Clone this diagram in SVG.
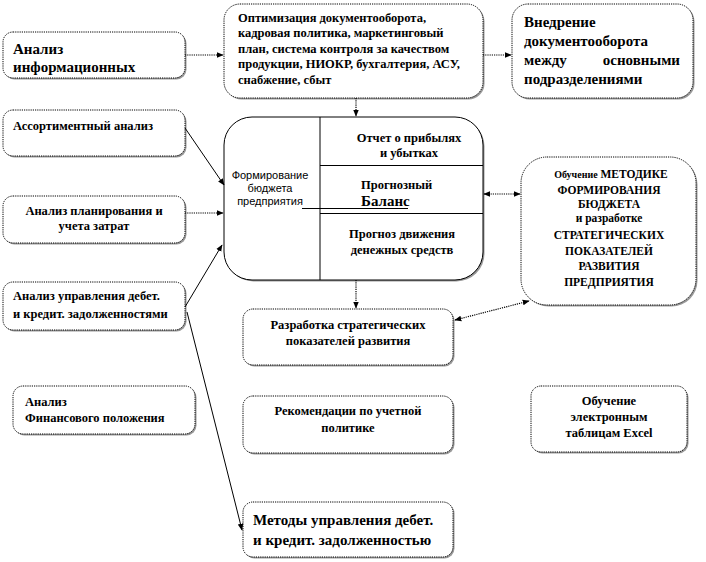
<svg xmlns="http://www.w3.org/2000/svg" width="706" height="562" viewBox="0 0 706 562">
<defs>
<style>
.sh{fill:#999;stroke:none}
.bx{fill:#fff;stroke:#000;stroke-width:1;stroke-dasharray:1.2,1}
.t{font-family:'Liberation Serif','DejaVu Serif','Times New Roman',serif;font-weight:bold;fill:#000}
.s{font-size:12.5px}
.r{font-size:11.5px}
.m{font-size:15px}
.a{font-family:'Liberation Sans',Arial,sans-serif;font-size:11px;fill:#000}
.ln{fill:none;stroke:#000;stroke-width:1}
.dt{fill:none;stroke:#000;stroke-width:1.2;stroke-dasharray:1.2,1}
</style>
<marker id="ar" viewBox="0 0 10 10" refX="9" refY="5" markerWidth="7" markerHeight="7" orient="auto-start-reverse" markerUnits="userSpaceOnUse">
<path d="M0,1 L10,5 L0,9 z" fill="#000"/>
</marker>
</defs>
<rect width="706" height="562" fill="#fff"/>

<g id="n-info">
<rect class="sh" x="4.5" y="33.5" width="182" height="46" rx="10"/>
<rect class="bx" x="3" y="32" width="182" height="46" rx="10"/>
<text class="t m" x="13" y="54">Анализ</text>
<text class="t m" x="13" y="72">информационных</text>
</g>

<g id="n-opt">
<rect class="sh" x="225.5" y="5.5" width="259" height="94" rx="16"/>
<rect class="bx" x="224" y="4" width="259" height="94" rx="16"/>
<text class="t s" x="238" y="22">Оптимизация документооборота,</text>
<text class="t s" x="238" y="37">кадровая политика,  маркетинговый</text>
<text class="t s" x="238" y="53">план,  система контроля за качеством</text>
<text class="t s" x="238" y="68">продукции, НИОКР,  бухгалтерия,  АСУ,</text>
<text class="t s" x="238" y="84">снабжение, сбыт</text>
</g>

<g id="n-vnedr">
<rect class="sh" x="513.5" y="5.5" width="181" height="94" rx="16"/>
<rect class="bx" x="512" y="4" width="181" height="94" rx="16"/>
<text class="t m" x="524" y="27">Внедрение</text>
<text class="t m" x="524" y="46">документооборота</text>
<text class="t m" x="524" y="65">между</text>
<text class="t m" x="680" y="65" text-anchor="end">основными</text>
<text class="t m" x="524" y="84">подразделениями</text>
</g>

<g id="n-assort">
<rect class="sh" x="4.5" y="111.5" width="182" height="46" rx="10"/>
<rect class="bx" x="3" y="110" width="182" height="46" rx="10"/>
<text class="t s" x="13" y="130">Ассортиментный анализ</text>
</g>

<g id="n-plan">
<rect class="sh" x="4.5" y="197.5" width="182" height="47" rx="10"/>
<rect class="bx" x="3" y="196" width="182" height="47" rx="10"/>
<text class="t s" x="94" y="215" text-anchor="middle">Анализ планирования и</text>
<text class="t s" x="94" y="230" text-anchor="middle">учета затрат</text>
</g>

<g id="n-debt">
<rect class="sh" x="4.5" y="283.5" width="182" height="48" rx="10"/>
<rect class="bx" x="3" y="282" width="182" height="48" rx="10"/>
<text class="t s" x="13" y="300">Анализ управления дебет.</text>
<text class="t s" x="13" y="318">и кредит.  задолженностями</text>
</g>

<g id="n-budget">
<rect class="sh" x="225.5" y="118.5" width="259" height="163" rx="28"/>
<rect x="224" y="117" width="259" height="163" rx="28" fill="#fff" stroke="#000" stroke-width="1"/>
<line class="ln" x1="320" y1="117" x2="320" y2="280"/>
<line class="ln" x1="320" y1="165.5" x2="483" y2="165.5"/>
<line class="ln" x1="320" y1="213.5" x2="483" y2="213.5"/>
<line class="ln" x1="302" y1="208.5" x2="408" y2="208.5"/>
<text class="a" x="270" y="179" text-anchor="middle">Формирование</text>
<text class="a" x="270" y="192" text-anchor="middle">бюджета</text>
<text class="a" x="270" y="205" text-anchor="middle">предприятия</text>
<text class="t s" x="409" y="142" text-anchor="middle">Отчет о прибылях</text>
<text class="t s" x="409" y="157" text-anchor="middle">и убытках</text>
<text class="t s" x="361" y="189">Прогнозный</text>
<text class="t m" x="361" y="206">Баланс</text>
<text class="t s" x="402" y="238" text-anchor="middle">Прогноз  движения</text>
<text class="t s" x="402" y="254" text-anchor="middle">денежных  средств</text>
</g>

<g id="n-method">
<rect class="sh" x="522.5" y="158.5" width="175" height="148" rx="26"/>
<rect class="bx" x="521" y="157" width="175" height="148" rx="26"/>
<text class="t r" x="611" y="178" text-anchor="middle"><tspan font-size="10px">Обучение</tspan> МЕТОДИКЕ</text>
<text class="t r" x="609" y="194" text-anchor="middle">ФОРМИРОВАНИЯ</text>
<text class="t r" x="609" y="208" text-anchor="middle">БЮДЖЕТА</text>
<text class="t r" x="609" y="222" text-anchor="middle" font-size="10.5px">и разработке</text>
<text class="t r" x="609" y="239" text-anchor="middle">СТРАТЕГИЧЕСКИХ</text>
<text class="t r" x="609" y="255" text-anchor="middle">ПОКАЗАТЕЛЕЙ</text>
<text class="t r" x="609" y="270" text-anchor="middle">РАЗВИТИЯ</text>
<text class="t r" x="609" y="286" text-anchor="middle">ПРЕДПРИЯТИЯ</text>
</g>

<g id="n-strat">
<rect class="sh" x="244.5" y="310.5" width="210" height="56" rx="10"/>
<rect class="bx" x="243" y="309" width="210" height="56" rx="10"/>
<text class="t s" x="348" y="329" text-anchor="middle">Разработка стратегических</text>
<text class="t s" x="348" y="345" text-anchor="middle">показателей развития</text>
</g>

<g id="n-fin">
<rect class="sh" x="14.5" y="387.5" width="182" height="48" rx="10"/>
<rect class="bx" x="13" y="386" width="182" height="48" rx="10"/>
<text class="t s" x="25" y="406">Анализ</text>
<text class="t s" x="25" y="422">Финансового положения</text>
</g>

<g id="n-recom">
<rect class="sh" x="244.5" y="397.5" width="210" height="57" rx="10"/>
<rect class="bx" x="243" y="396" width="210" height="57" rx="10"/>
<text class="t s" x="348" y="415" text-anchor="middle">Рекомендации по учетной</text>
<text class="t s" x="348" y="432" text-anchor="middle">политике</text>
</g>

<g id="n-excel">
<rect class="sh" x="532.5" y="387.5" width="156" height="66" rx="10"/>
<rect class="bx" x="531" y="386" width="156" height="66" rx="10"/>
<text class="t s" x="609" y="405" text-anchor="middle">Обучение</text>
<text class="t s" x="609" y="421" text-anchor="middle">электронным</text>
<text class="t s" x="609" y="437" text-anchor="middle">таблицам Excel</text>
</g>

<g id="n-methods">
<rect class="sh" x="244.5" y="503.5" width="210" height="55" rx="10"/>
<rect class="bx" x="243" y="502" width="210" height="55" rx="10"/>
<text class="t m" x="253" y="525">Методы  управления  дебет.</text>
<text class="t m" x="253" y="545">и кредит.  задолженностью</text>
</g>

<g id="connectors">
<line class="dt" x1="185" y1="55" x2="223" y2="55" marker-end="url(#ar)"/>
<line class="dt" x1="483" y1="55" x2="511" y2="55" marker-end="url(#ar)"/>
<line class="dt" x1="356" y1="98" x2="356" y2="116" marker-end="url(#ar)"/>
<line class="ln" x1="185" y1="128" x2="224" y2="185" marker-end="url(#ar)"/>
<line class="dt" x1="185" y1="213" x2="223" y2="213" marker-end="url(#ar)"/>
<line class="ln" x1="185" y1="307" x2="222" y2="245" marker-end="url(#ar)"/>
<line class="ln" x1="187" y1="312" x2="242" y2="530" marker-end="url(#ar)"/>
<line class="dt" x1="484" y1="194" x2="520" y2="194" marker-start="url(#ar)" marker-end="url(#ar)"/>
<line class="dt" x1="356" y1="280" x2="356" y2="308" marker-end="url(#ar)"/>
<line class="dt" x1="455" y1="320" x2="529" y2="301" marker-start="url(#ar)" marker-end="url(#ar)"/>
</g>
</svg>
